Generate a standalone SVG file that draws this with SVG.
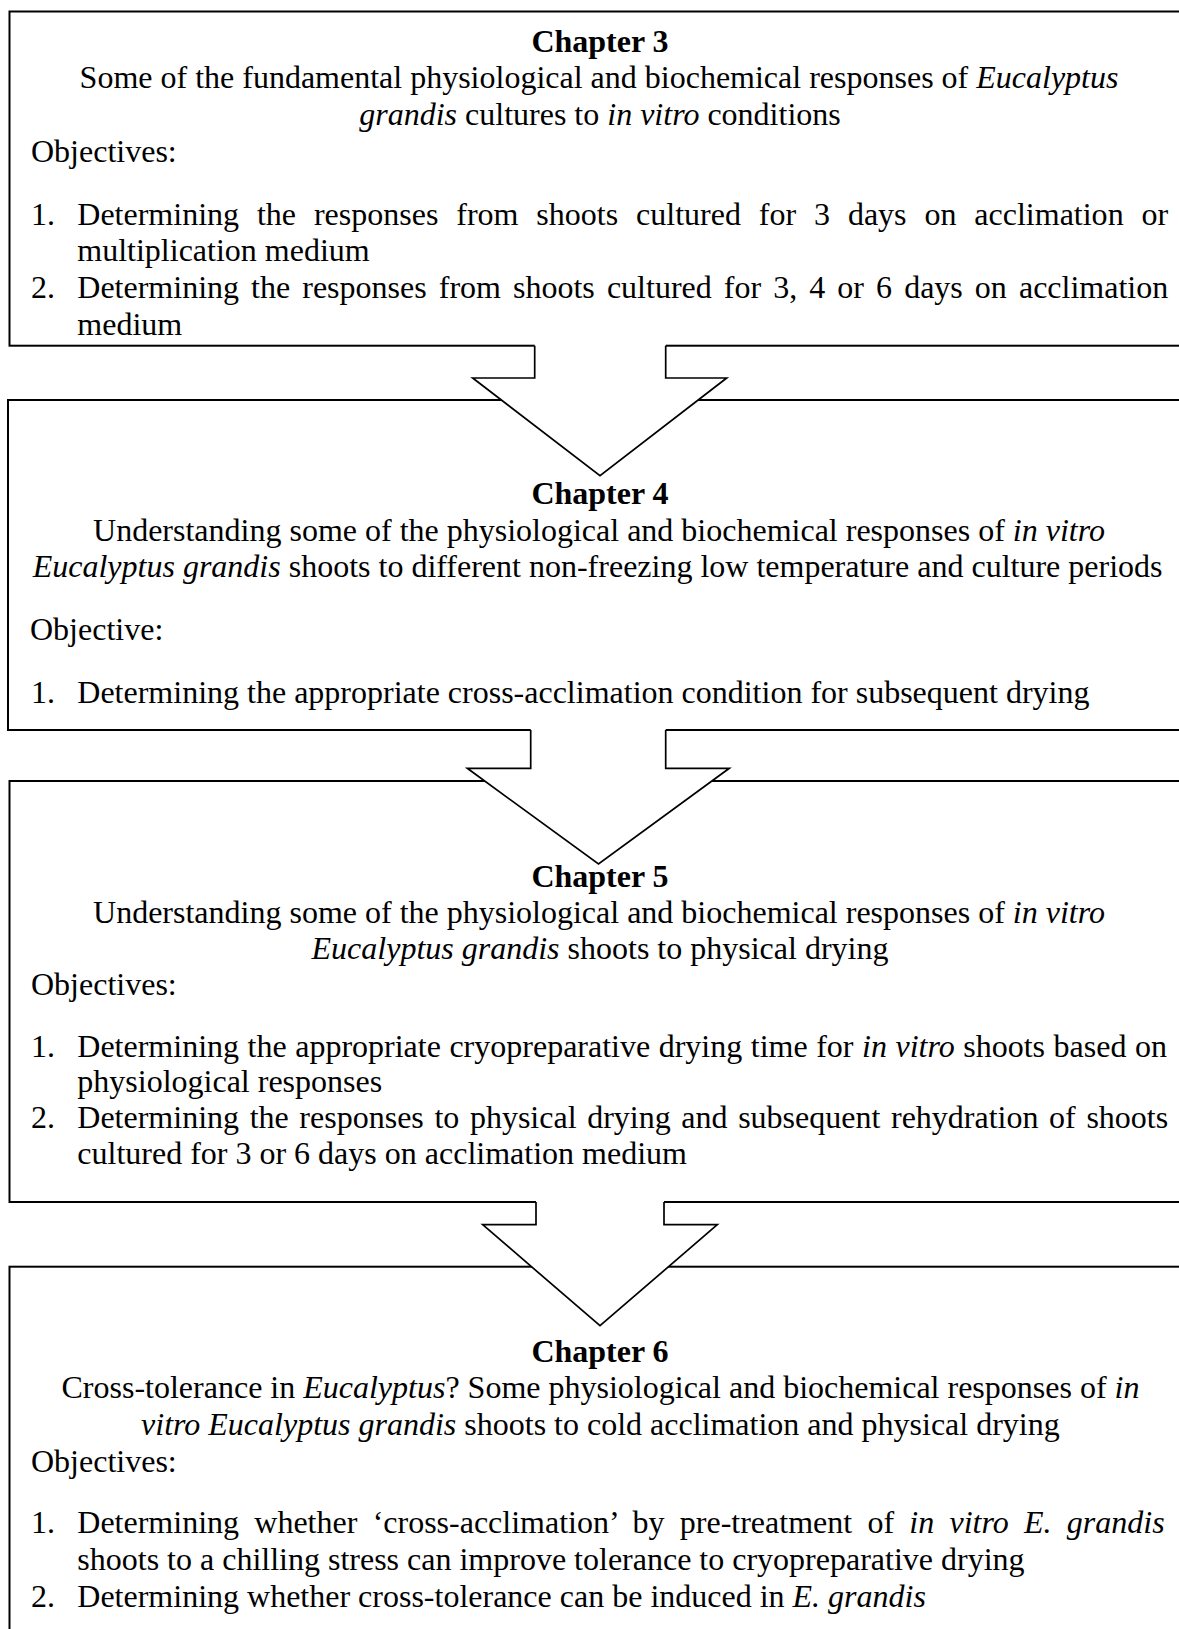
<svg xmlns="http://www.w3.org/2000/svg" width="1179" height="1629" viewBox="0 0 1179 1629">
<style>
text { font-family: "Liberation Serif", "Times New Roman", serif; font-size: 32px; fill: #000; }
.c { text-anchor: middle; }
.b { font-weight: bold; }
.i { font-style: italic; }
.box { fill: #fff; stroke: #000; stroke-width: 2; }
.af { fill: #fff; stroke: none; }
.al { fill: none; stroke: #000; stroke-width: 1.7; stroke-linejoin: miter; }
</style>
<rect width="1179" height="1629" fill="#fff"/>

<g id="chapter3">
<rect class="box" x="9.5" y="11.5" width="1200" height="334.2"/>
<text class="c b" x="600" y="51.6">Chapter 3</text>
<text class="c" x="599" y="88.3">Some of the fundamental physiological and biochemical responses of <tspan class="i">Eucalyptus</tspan></text>
<text class="c" x="600" y="125"><tspan class="i">grandis</tspan> cultures to <tspan class="i">in vitro</tspan> conditions</text>
<text x="31" y="161.7">Objectives:</text>
<text x="31" y="224.5">1.</text>
<text x="77.3" y="224.5" word-spacing="9.9">Determining the responses from shoots cultured for 3 days on acclimation or</text>
<text x="77.3" y="261">multiplication medium</text>
<text x="31" y="298.3">2.</text>
<text x="77.3" y="298.3" word-spacing="4.07">Determining the responses from shoots cultured for 3, 4 or 6 days on acclimation</text>
<text x="77.3" y="335">medium</text>
</g>

<g id="chapter4">
<rect class="box" x="8" y="400" width="1200" height="330"/>
<text class="c b" x="600" y="504">Chapter 4</text>
<text class="c" x="599" y="541">Understanding some of the physiological and biochemical responses of <tspan class="i">in vitro</tspan></text>
<text class="c" x="597.6" y="577.3"><tspan class="i">Eucalyptus grandis</tspan> shoots to different non-freezing low temperature and culture periods</text>
<text x="30" y="640">Objective:</text>
<text x="31" y="703.3">1.</text>
<text x="77.3" y="703.3">Determining the appropriate cross-acclimation condition for subsequent drying</text>
</g>

<g id="chapter5">
<rect class="box" x="9.5" y="781" width="1200" height="421"/>
<text class="c b" x="600" y="887">Chapter 5</text>
<text class="c" x="599" y="923.3">Understanding some of the physiological and biochemical responses of <tspan class="i">in vitro</tspan></text>
<text class="c" x="600" y="959"><tspan class="i">Eucalyptus grandis</tspan> shoots to physical drying</text>
<text x="31" y="995">Objectives:</text>
<text x="31" y="1056.7">1.</text>
<text x="77.3" y="1056.7" word-spacing="0.53">Determining the appropriate cryopreparative drying time for <tspan class="i">in vitro</tspan> shoots based on</text>
<text x="77.3" y="1092.3">physiological responses</text>
<text x="31" y="1128.3">2.</text>
<text x="77.3" y="1128.3" word-spacing="2.62">Determining the responses to physical drying and subsequent rehydration of shoots</text>
<text x="77.3" y="1164">cultured for 3 or 6 days on acclimation medium</text>
</g>

<g id="chapter6">
<rect class="box" x="9.5" y="1266.7" width="1200" height="400"/>
<text class="c b" x="600" y="1362">Chapter 6</text>
<text class="c" x="600.5" y="1398.3">Cross-tolerance in <tspan class="i">Eucalyptus</tspan>? Some physiological and biochemical responses of <tspan class="i">in</tspan></text>
<text class="c" x="600.4" y="1435"><tspan class="i">vitro Eucalyptus grandis</tspan> shoots to cold acclimation and physical drying</text>
<text x="31" y="1471.7">Objectives:</text>
<text x="31" y="1533.3">1.</text>
<text x="77.3" y="1533.3" word-spacing="7.27">Determining whether ‘cross-acclimation’ by pre-treatment of <tspan class="i">in vitro E. grandis</tspan></text>
<text x="77.3" y="1570">shoots to a chilling stress can improve tolerance to cryopreparative drying</text>
<text x="31" y="1606.7">2.</text>
<text x="77.3" y="1606.7">Determining whether cross-tolerance can be induced in <tspan class="i">E. grandis</tspan></text>
</g>

<g id="connectors">
<g id="arrow-3-4">
<path class="af" d="M534.7,343.5 V378 H472.7 L600,475.7 L726.7,378 H665.7 V343.5 Z"/>
<path class="al" d="M534.7,345.7 V378 H472.7 L600,475.7 L726.7,378 H665.7 V345.7"/>
</g>
<g id="arrow-4-5">
<path class="af" d="M530.7,728 V768.3 H467.3 L598.5,864 L729.3,768.3 H665.7 V728 Z"/>
<path class="al" d="M530.7,730 V768.3 H467.3 L598.5,864 L729.3,768.3 H665.7 V730"/>
</g>
<g id="arrow-5-6">
<path class="af" d="M536,1200 V1224.7 H482.7 L600,1325.7 L717.3,1224.7 H664 V1200 Z"/>
<path class="al" d="M536,1202 V1224.7 H482.7 L600,1325.7 L717.3,1224.7 H664 V1202"/>
</g>
</g>
</svg>
